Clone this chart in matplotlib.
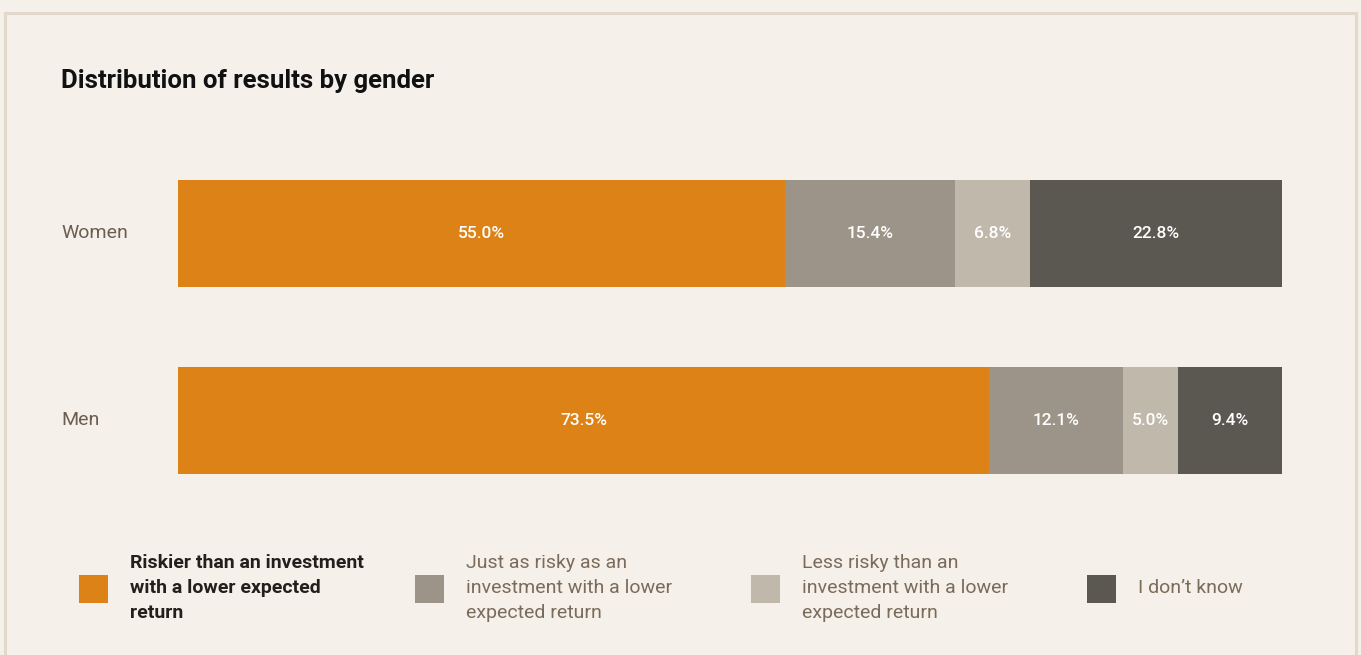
import matplotlib.pyplot as plt
from matplotlib.patches import Rectangle
from matplotlib.lines import Line2D

plt.rcParams['font.family'] = ['Roboto', 'DejaVu Sans']

groups = ['Women', 'Men']
answers = [
    'Riskier than an investment\nwith a lower expected\nreturn',
    'Just as risky as an\ninvestment with a lower\nexpected return',
    'Less risky than an\ninvestment with a lower\nexpected return',
    'I don\u2019t know',
]
# share of answers per group, in percent (same order as answers)
women = [55.0, 15.4, 6.8, 22.8]
men = [73.5, 12.1, 5.0, 9.4]
colors = ['#dc8217', '#9d9489', '#c0b8ab', '#5b5751']

bg = '#f5f0ea'
fig = plt.figure(figsize=(13.61, 6.55), dpi=100, facecolor=bg)
W, H = 1361, 655

# panel frame (open at the bottom)
frame_col = '#e2d8cb'
for xs, ys in [([5, 5], [0, 13]), ([5, 1356], [13, 13]), ([1356, 1356], [13, 0])]:
    fig.add_artist(Line2D([x / W for x in xs], [1 - y / H if y else 0 for y in ys],
                          color=frame_col, lw=2.2, transform=fig.transFigure))

fig.text(61 / W, 1 - 81 / H, 'Distribution of results by gender', fontsize=18.5,
         fontweight='bold', color='#111111', va='center', ha='left')

ax = fig.add_axes([178 / W, 1 - 474 / H, 1104 / W, 294 / H])
ax.set_facecolor(bg)
bar_h = 107 / 187
rows = [women, men]
for i, vals in enumerate(rows):
    left = 0
    for v, c in zip(vals, colors):
        ax.barh(i, v, left=left, height=bar_h, color=c, edgecolor='none')
        ax.text(left + v / 2, i, f'{v:.1f}%', ha='center', va='center',
                color='white', fontsize=12.5, fontweight='medium')
        left += v

ax.set_xlim(0, 100)
ax.set_ylim(1 + bar_h / 2, -bar_h / 2)
ax.axis('off')

for i, g in enumerate(groups):
    yc = 233 + i * 187
    fig.text(61 / W, 1 - yc / H, g, fontsize=14, color='#6b5e50',
             va='center', ha='left')

# legend
for k, (lab, c) in enumerate(zip(answers, colors)):
    x0 = 79 + k * 336
    fig.add_artist(Rectangle((x0 / W, 1 - 603 / H), 29 / W, 28 / H,
                             transform=fig.transFigure, color=c, lw=0))
    fig.text((x0 + 51) / W, 1 - 588 / H, lab, fontsize=14, va='center', ha='left',
             linespacing=1.48,
             color='#231f1c' if k == 0 else '#7a6b5a',
             fontweight='bold' if k == 0 else 'normal')

fig.savefig('out.png', dpi=100, facecolor=bg)
